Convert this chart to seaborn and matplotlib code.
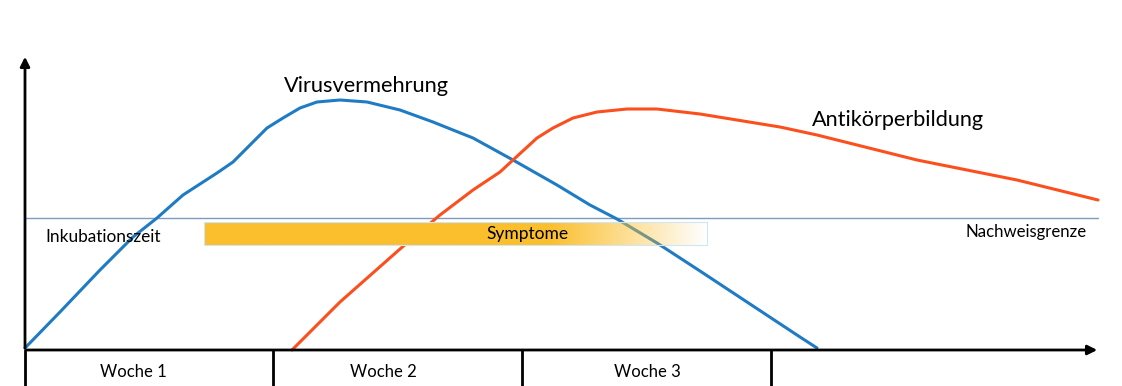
import matplotlib.pyplot as plt
import numpy as np
import pandas as pd
import seaborn as sns
from matplotlib.colors import to_rgb

sns.set_theme(style="white")
plt.rcParams['font.family'] = ['Lato', 'DejaVu Sans']

# schematic units: x runs 0..1122, y ("level") runs 0..386 from the bottom
virus_x = [25, 60, 100, 133, 157, 183, 217, 233, 250, 267, 283, 300, 317, 340,
           367, 400, 433, 473, 513, 557, 590, 617, 657, 700, 750, 800, 817]
virus_y = [38, 74, 116, 149, 168, 191, 213, 224, 241, 258, 268, 278, 284, 286,
           284, 276, 264, 248, 226, 201, 181, 167, 143, 115, 82, 49, 38]
anti_x = [292, 340, 400, 440, 473, 500, 513, 537, 553, 573, 597, 627, 657, 700,
          780, 817, 917, 1017, 1098]
anti_y = [36, 84, 137, 171, 196, 214, 226, 248, 258, 268, 274, 277, 277, 272,
          259, 251, 226, 206, 186]

weeks = ['Woche 1', 'Woche 2', 'Woche 3']
week_edges = [25, 273, 522, 771]
week_label_x = [133, 383, 647]
baseline = 36
detection_level = 168
symptom_start, symptom_fade, symptom_end = 204, 550, 707

df = pd.concat([
    pd.DataFrame({'x': virus_x, 'y': virus_y, 'kurve': 'Virusvermehrung'}),
    pd.DataFrame({'x': anti_x, 'y': anti_y, 'kurve': 'Antikörperbildung'}),
])

fig = plt.figure(figsize=(11.22, 3.86), dpi=100)
ax = fig.add_axes([0, 0, 1, 1])
sns.lineplot(data=df, x='x', y='y', hue='kurve', sort=False, estimator=None,
             palette={'Virusvermehrung': '#1f7bc3', 'Antikörperbildung': '#fb4f1e'},
             linewidth=2.2, legend=False, ax=ax, zorder=2,
             solid_joinstyle='round', solid_capstyle='round')
ax.set_xlim(0, 1122)
ax.set_ylim(0, 386)
ax.axis('off')

# detection limit
ax.plot([25, 1098], [detection_level, detection_level], color='#7d9cbd', lw=1.0, zorder=1)

# symptom bar with fading right end
n = 400
grad = np.linspace(symptom_start, symptom_end, n)
alpha = np.clip((symptom_end - grad) / (symptom_end - symptom_fade), 0, 1)
rgba = np.zeros((1, n, 4))
rgba[..., :3] = to_rgb('#fbbf2d')
rgba[0, :, 3] = alpha
ax.imshow(rgba, extent=[symptom_start, symptom_end, 141, 164], aspect='auto',
          interpolation='bilinear', zorder=3)
ax.plot([symptom_start, symptom_end, symptom_end, symptom_start, symptom_start],
        [141, 141, 164, 164, 141], color='#cfe6f5', lw=0.8, zorder=3)
ax.text(527, 152, 'Symptome', ha='center', va='center', fontsize=12.5,
        color='black', zorder=4)

# axes with arrows
ax.annotate('', xy=(25, 332), xytext=(25, baseline - 1),
            arrowprops=dict(arrowstyle='-|>', color='black', lw=2, mutation_scale=14))
ax.annotate('', xy=(1100, baseline), xytext=(24, baseline),
            arrowprops=dict(arrowstyle='-|>', color='black', lw=2, mutation_scale=14))

# week boxes
for e in week_edges:
    ax.plot([e, e], [0, baseline], color='black', lw=2, zorder=5)
for xl, w in zip(week_label_x, weeks):
    ax.text(xl, 14, w, ha='center', va='center', fontsize=12, color='black')

ax.text(366, 300, 'Virusvermehrung', ha='center', va='center', fontsize=15.7,
        color='black')
ax.text(898, 266, 'Antikörperbildung', ha='center', va='center', fontsize=15.6,
        color='black')
ax.text(45, 149, 'Inkubationszeit', ha='left', va='center', fontsize=12.4,
        color='black')
ax.text(1087, 154, 'Nachweisgrenze', ha='right', va='center', fontsize=12.1,
        color='black')

fig.savefig('out.png', dpi=100)
